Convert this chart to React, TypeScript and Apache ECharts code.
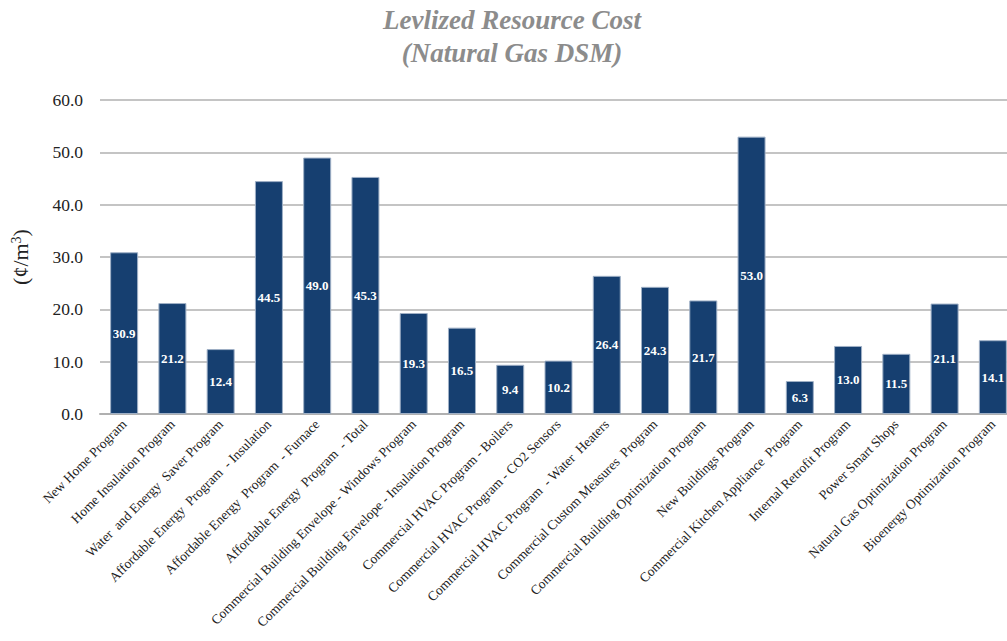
import React, { useEffect, useRef } from "react";
import * as echarts from "echarts";

const categories = [
  "New Home Program",
  "Home Insulation Program",
  "Water  and Energy  Saver Program",
  "Affordable Energy  Program  - Insulation",
  "Affordable Energy  Program  - Furnace",
  "Affordable Energy  Program  - Total",
  "Commercial Building Envelope - Windows Program",
  "Commercial Building Envelope - Insulation Program",
  "Commercial HVAC Program - Boilers",
  "Commercial HVAC Program - CO2 Sensors",
  "Commercial HVAC Program  - Water  Heaters",
  "Commercial Custom Measures  Program",
  "Commercial Building Optimization Program",
  "New Buildings Program",
  "Commercial Kitchen Appliance  Program",
  "Internal Retrofit Program",
  "Power Smart Shops",
  "Natural Gas Optimization Program",
  "Bioenergy Optimization Program",
];

const values = [30.9, 21.2, 12.4, 44.5, 49.0, 45.3, 19.3, 16.5, 9.4, 10.2, 26.4, 24.3, 21.7, 53.0, 6.3, 13.0, 11.5, 21.1, 14.1];

const titleLines = ["Levlized Resource Cost", "(Natural Gas DSM)"];

const FONT = "'Liberation Serif', 'DejaVu Serif', serif";

export default function App() {
  const ref = useRef<HTMLDivElement>(null);
  useEffect(() => {
    document.body.style.margin = "0";
    const chart = echarts.init(ref.current!, null, { renderer: "svg" });
    chart.setOption({
      animation: false,
      backgroundColor: "#ffffff",
      title: {
        text: titleLines.join("\n"),
        left: 512,
        top: 3,
        padding: 0,
        textAlign: "center",
        textStyle: {
          fontFamily: FONT,
          fontSize: 27,
          fontWeight: "bold",
          fontStyle: "italic",
          color: "#8c8c8c",
          lineHeight: 33,
        },
      },
      grid: { left: 100, width: 917, top: 100, height: 314, containLabel: false, outerBoundsMode: "none" },
      xAxis: {
        type: "category",
        data: categories,
        axisLine: { lineStyle: { color: "#b0b0b0", width: 2 } },
        axisTick: { show: false },
        axisLabel: {
          interval: 0,
          rotate: 45,
          fontFamily: FONT,
          fontSize: 13.5,
          color: "#222222",
          margin: 8,
        },
      },
      yAxis: {
        type: "value",
        min: 0,
        max: 60,
        interval: 10,
        name: "(¢/m{sup|3})",
        nameLocation: "middle",
        nameRotate: 90,
        nameGap: 68,
        nameTextStyle: {
          fontFamily: FONT,
          fontSize: 22,
          color: "#222222",
          rich: {
            sup: { fontFamily: FONT, fontSize: 14, verticalAlign: "top", color: "#222222", padding: [0, 0, 9, 0] },
          },
        },
        axisLine: { show: false },
        axisTick: { show: false },
        axisLabel: {
          formatter: (v: number) => v.toFixed(1),
          fontFamily: FONT,
          fontSize: 17.5,
          color: "#222222",
          margin: 17,
        },
        splitLine: { lineStyle: { color: "#b0b0b0", width: 1.5 } },
      },
      series: [
        {
          type: "bar",
          data: values,
          barWidth: "58%",
          itemStyle: { color: "#163f70", borderColor: "#9fb0c6", borderWidth: 1 },
          label: {
            show: true,
            position: "inside",
            formatter: (p: any) => Number(p.value).toFixed(1),
            fontFamily: FONT,
            fontWeight: "bold",
            fontSize: 13,
            color: "#ffffff",
          },
        },
      ],
    });
    return () => chart.dispose();
  }, []);
  return <div ref={ref} style={{ width: 1007, height: 641 }} />;
}
